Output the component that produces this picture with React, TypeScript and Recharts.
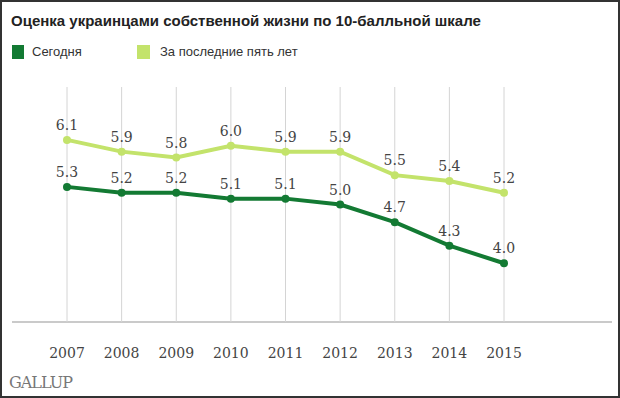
import { LabelList, Line, LineChart, ReferenceLine, XAxis, YAxis } from "recharts";

const years = ["2007", "2008", "2009", "2010", "2011", "2012", "2013", "2014", "2015"];
const today = [5.3, 5.2, 5.2, 5.1, 5.1, 5.0, 4.7, 4.3, 4.0];
const fiveYears = [6.1, 5.9, 5.8, 6.0, 5.9, 5.9, 5.5, 5.4, 5.2];

const DARK = "#137a33";
const LIGHT = "#c3e36b";
const SERIF = "'DejaVu Serif', Georgia, serif";
const SANS = "'Liberation Sans', Arial, sans-serif";

const data = years.map((y, i) => ({ year: y, today: today[i], five: fiveYears[i] }));

function YearTick(props: any) {
  const { x, y, payload } = props;
  return (
    <text x={x} y={y + 28} textAnchor="middle" fontSize={14} fill="#444" fontFamily={SERIF}>
      {payload.value}
    </text>
  );
}

export default function App() {
  return (
    <div
      style={{
        position: "absolute",
        left: 0,
        top: 0,
        width: 620,
        height: 398,
        boxSizing: "border-box",
        border: "2px solid #333",
        background: "#fff",
        overflow: "hidden",
      }}
    >
      <div
        style={{
          position: "absolute",
          left: 9,
          top: 10,
          fontFamily: SANS,
          fontWeight: "bold",
          fontSize: 15,
          color: "#222",
          whiteSpace: "nowrap",
        }}
      >
        Оценка украинцами собственной жизни по 10-балльной шкале
      </div>
      <div style={{ position: "absolute", left: 10, top: 42, display: "flex", alignItems: "center", fontFamily: SANS, fontSize: 13, color: "#333" }}>
        <span style={{ width: 12, height: 14, background: DARK, display: "inline-block", marginRight: 8 }} />
        <span style={{ width: 105 }}>Сегодня</span>
        <span style={{ width: 13, height: 14, background: LIGHT, display: "inline-block", marginRight: 10 }} />
        <span>За последние пять лет</span>
      </div>
      {/* baseline runs wider than the plotted range */}
      <div style={{ position: "absolute", left: 10, top: 319, width: 600, height: 2, background: "#cacaca" }} />
      <div style={{ position: "absolute", left: 0, top: 0 }}>
        <LineChart
          width={616}
          height={394}
          data={data}
          accessibilityLayer={false}
          margin={{ top: 85, right: 114, bottom: 44, left: 65 }}
        >
          {years.map((y) => (
            <ReferenceLine key={y} x={y} stroke="#d4d4d4" strokeWidth={1} />
          ))}
          <XAxis
            dataKey="year"
            axisLine={false}
            tickLine={false}
            height={30}
            tick={<YearTick />}
            interval={0}
          />
          <YAxis hide domain={[3, 7]} />
          <Line dataKey="five" stroke={LIGHT} strokeWidth={4} dot={{ r: 4, fill: LIGHT, stroke: LIGHT, strokeWidth: 0 }} isAnimationActive={false}>
            <LabelList dataKey="five" position="top" offset={10} fontSize={14} fill="#444" fontFamily={SERIF} formatter={(v: any) => Number(v).toFixed(1)} />
          </Line>
          <Line dataKey="today" stroke={DARK} strokeWidth={4} dot={{ r: 4, fill: DARK, stroke: DARK, strokeWidth: 0 }} isAnimationActive={false}>
            <LabelList dataKey="today" position="top" offset={10} fontSize={14} fill="#444" fontFamily={SERIF} formatter={(v: any) => Number(v).toFixed(1)} />
          </Line>
        </LineChart>
      </div>
      <div style={{ position: "absolute", left: 7, top: 371, fontFamily: SERIF, fontSize: 16, color: "#777", letterSpacing: -1 }}>
        GALLUP
      </div>
    </div>
  );
}
